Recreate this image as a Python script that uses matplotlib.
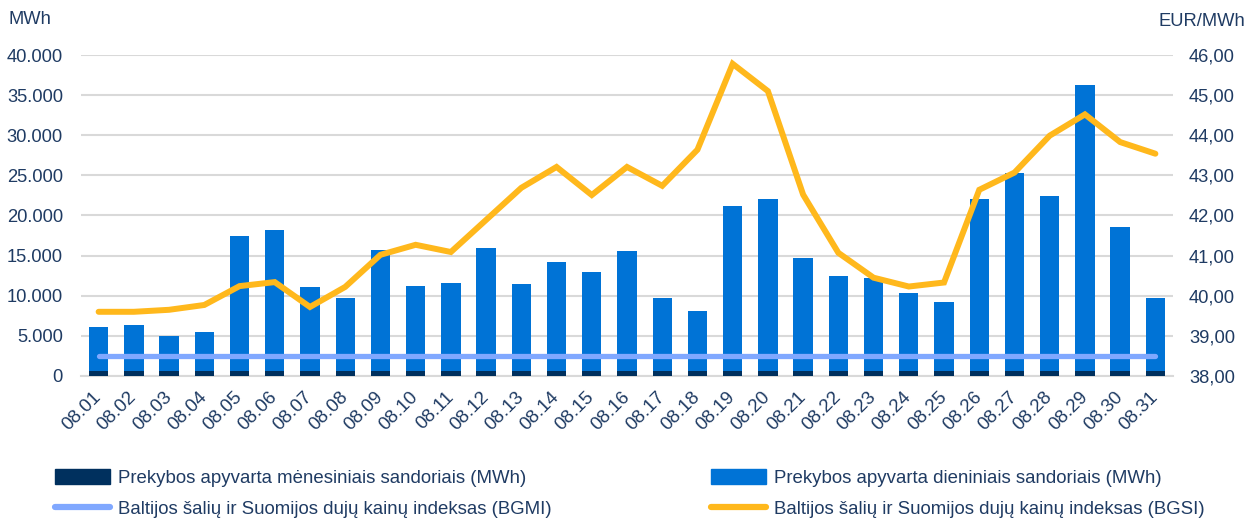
import matplotlib
matplotlib.use("Agg")
import matplotlib.pyplot as plt
import matplotlib.transforms as mtransforms
from matplotlib.ticker import FuncFormatter, MultipleLocator
from matplotlib.patches import Patch
from matplotlib.lines import Line2D

plt.rcParams['font.family'] = ['Liberation Sans', 'DejaVu Sans']

days = ["08.%02d" % d for d in range(1, 32)]
monthly = [600] * 31
total_turnover = [6100, 6350, 5000, 5500, 17450, 18200, 11100, 9700, 15700, 11200,
                  11600, 16000, 11500, 14200, 13000, 15600, 9700, 8100, 21200, 22100,
                  14700, 12500, 12200, 10300, 9200, 22100, 25300, 22400, 36200, 18600, 9700]
daily = [t - m for t, m in zip(total_turnover, monthly)]
bgmi = [38.50] * 31
bgsi = [39.60, 39.60, 39.65, 39.77, 40.24, 40.34, 39.72, 40.22, 41.02, 41.27,
        41.09, 41.89, 42.69, 43.21, 42.51, 43.21, 42.74, 43.64, 45.78, 45.10,
        42.52, 41.07, 40.45, 40.23, 40.33, 42.64, 43.07, 43.99, 44.52, 43.83, 43.54]

TXT = '#1F3B63'
C_MONTH = '#00305E'
C_DAY = '#0073D6'
C_BGMI = '#80A8FF'
C_BGSI = '#FFB81C'
GRID = '#D9D9D9'

fig = plt.figure(figsize=(12.6, 5.19), dpi=100)
ax = fig.add_axes([81/1260, 1-376/519, (1173-81)/1260, (376-55)/519])
ax2 = ax.twinx()

x = list(range(31))
ax.bar(x, monthly, width=0.55, color=C_MONTH, zorder=3)
ax.bar(x, daily, width=0.55, bottom=monthly, color=C_DAY, zorder=3)

ax.set_xlim(-0.5, 30.5)
ax.set_ylim(0, 40000)
ax.yaxis.set_major_locator(MultipleLocator(5000))
ax.yaxis.set_major_formatter(FuncFormatter(lambda v, p: ('%d' % v) if v == 0 else '{:,.0f}'.format(v).replace(',', '.')))
ax.grid(axis='y', color=GRID, linewidth=1.5, zorder=0)
ax.set_axisbelow(True)

ax2.plot(x, bgmi, color=C_BGMI, linewidth=3.8, solid_capstyle='round', zorder=4)
ax2.plot(x, bgsi, color=C_BGSI, linewidth=4.3, solid_capstyle='round', solid_joinstyle='miter', zorder=5)
ax2.set_ylim(38, 46)
ax2.yaxis.set_major_locator(MultipleLocator(1))
ax2.yaxis.set_major_formatter(FuncFormatter(lambda v, p: ('%.2f' % v).replace('.', ',')))

ax.set_zorder(1)
ax2.set_zorder(2)
ax.patch.set_visible(False)
ax2.patch.set_visible(False)

for a in (ax, ax2):
    for s in a.spines.values():
        s.set_visible(False)
ax.spines['bottom'].set_visible(True)
ax.spines['bottom'].set_color(GRID)
ax.spines['bottom'].set_linewidth(1.5)

ax.set_xticks(x)
ax.set_xticklabels(days, rotation=45, ha='right', va='top', rotation_mode='anchor')
ax.tick_params(axis='x', length=0, pad=9, labelsize=13.5, labelcolor=TXT)
ax.tick_params(axis='y', length=0, pad=13, labelsize=13.2, labelcolor=TXT)
ax2.tick_params(axis='y', length=0, pad=11.5, labelsize=13.2, labelcolor=TXT)
offset = mtransforms.ScaledTranslation(-6/100, 0, fig.dpi_scale_trans)
for lab in ax.get_xticklabels():
    lab.set_transform(lab.get_transform() + offset)

fig.text(8/1260, 1-20/519, 'MWh', fontsize=13.2, color=TXT, ha='left', va='center')
fig.text(1245/1260, 1-22/519, 'EUR/MWh', fontsize=13.2, color=TXT, ha='right', va='center')

handles = [Patch(facecolor=C_MONTH, edgecolor=C_MONTH),
           Line2D([], [], color=C_BGMI, linewidth=4.5, solid_capstyle='round'),
           Patch(facecolor=C_DAY, edgecolor=C_DAY),
           Line2D([], [], color=C_BGSI, linewidth=4.5, solid_capstyle='round')]
labels = ['Prekybos apyvarta mėnesiniais sandoriais (MWh)',
          'Baltijos šalių ir Suomijos dujų kainų indeksas (BGMI)',
          'Prekybos apyvarta dieniniais sandoriais (MWh)',
          'Baltijos šalių ir Suomijos dujų kainų indeksas (BGSI)']
leg = fig.legend(handles, labels, ncol=2, loc='upper left',
                 bbox_to_anchor=(48/1260, 1-462/519), frameon=False,
                 fontsize=13.4, handlelength=2.95, handleheight=0.85, handletextpad=0.4,
                 columnspacing=8.6, labelspacing=0.68, borderaxespad=0)
for t in leg.get_texts():
    t.set_color(TXT)

fig.savefig('out.png', dpi=100)
